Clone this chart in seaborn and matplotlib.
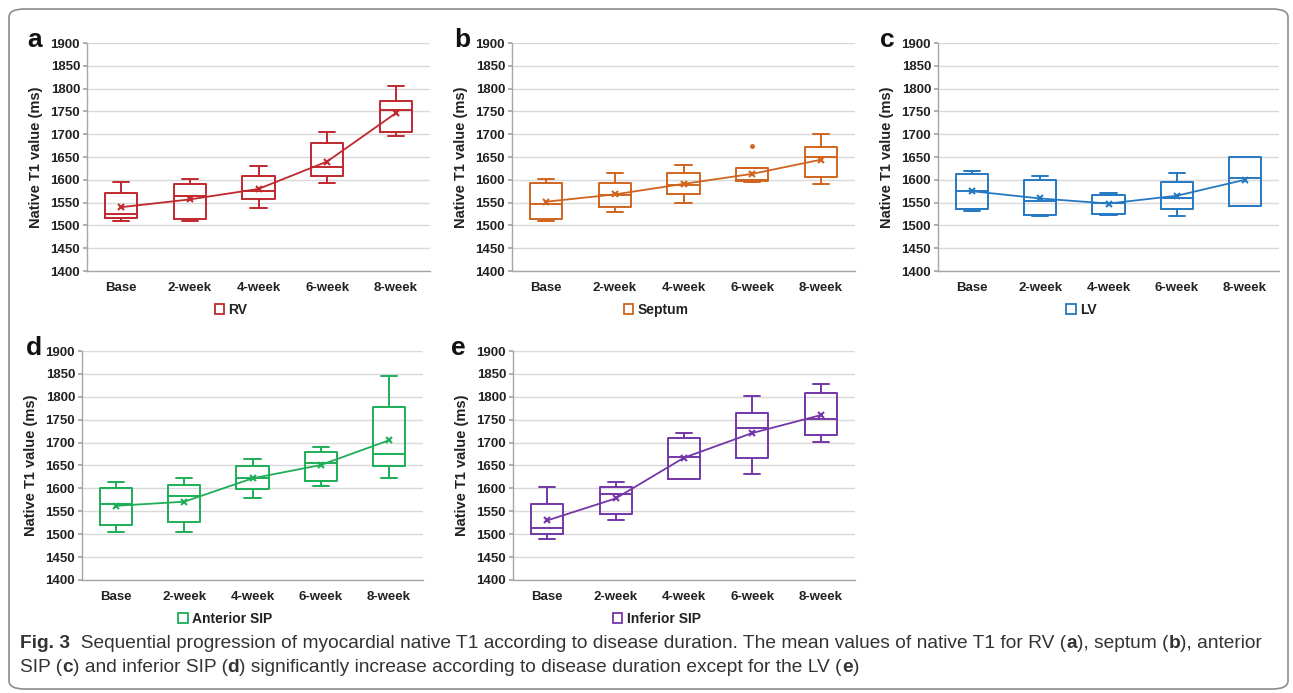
import matplotlib
matplotlib.use("Agg")
import matplotlib.pyplot as plt
import seaborn as sns
from matplotlib.patches import Patch, FancyBboxPatch

# time points
weeks = ["Base", "2-week", "4-week", "6-week", "8-week"]

# box statistics (ms)
rv_lo = [1510, 1509, 1539, 1592, 1696]
rv_q1 = [1516, 1514, 1558, 1608, 1705]
rv_med = [1526, 1564, 1575, 1628, 1753]
rv_q3 = [1572, 1590, 1608, 1680, 1772]
rv_hi = [1595, 1601, 1630, 1705, 1806]
rv_mean = [1540, 1557, 1580, 1640, 1746]

sep_lo = [1509, 1529, 1550, 1596, 1590]
sep_q1 = [1514, 1541, 1568, 1597, 1607]
sep_med = [1546, 1567, 1589, 1599, 1649]
sep_q3 = [1593, 1592, 1614, 1626, 1671]
sep_hi = [1602, 1615, 1633, 1626, 1700]
sep_mean = [1552, 1568, 1591, 1613, 1644]
sep_out = [[], [], [], [1675], []]

lv_lo = [1532, 1520, 1523, 1521, 1543]
lv_q1 = [1535, 1523, 1526, 1536, 1543]
lv_med = [1576, 1553, 1549, 1560, 1605]
lv_q3 = [1613, 1599, 1567, 1596, 1650]
lv_hi = [1619, 1608, 1570, 1615, 1651]
lv_mean = [1575, 1559, 1548, 1565, 1600]

ant_lo = [1505, 1505, 1580, 1606, 1622]
ant_q1 = [1521, 1527, 1598, 1616, 1648]
ant_med = [1565, 1583, 1623, 1655, 1676]
ant_q3 = [1600, 1607, 1649, 1679, 1778]
ant_hi = [1615, 1623, 1664, 1691, 1846]
ant_mean = [1562, 1571, 1622, 1651, 1705]

inf_lo = [1489, 1532, 1620, 1631, 1702]
inf_q1 = [1500, 1545, 1621, 1666, 1717]
inf_med = [1513, 1587, 1668, 1732, 1752]
inf_q3 = [1565, 1603, 1709, 1765, 1808]
inf_hi = [1602, 1613, 1722, 1802, 1827]
inf_mean = [1530, 1578, 1667, 1721, 1760]

panels = [
    ("a", "RV", "#C0282D", rv_lo, rv_q1, rv_med, rv_q3, rv_hi, rv_mean, None),
    ("b", "Septum", "#D0641E", sep_lo, sep_q1, sep_med, sep_q3, sep_hi, sep_mean, sep_out),
    ("c", "LV", "#2479C2", lv_lo, lv_q1, lv_med, lv_q3, lv_hi, lv_mean, None),
    ("d", "Anterior SIP", "#1DAE57", ant_lo, ant_q1, ant_med, ant_q3, ant_hi, ant_mean, None),
    ("e", "Inferior SIP", "#7536A8", inf_lo, inf_q1, inf_med, inf_q3, inf_hi, inf_mean, None),
]

# axes boxes in pixels: left, top, right, bottom
W, H = 1293, 693
boxes = [(87, 43, 430, 271), (512, 43, 855, 271), (938, 43, 1279, 271),
         (82, 351, 423, 580), (513, 351, 855, 580)]
letter_pos = [(27, 47), (454, 47), (880, 47), (26, 355), (451, 355)]

sns.set_theme(style="white")
plt.rcParams["font.family"] = ["Liberation Sans", "DejaVu Sans"]

fig = plt.figure(figsize=(W / 100, H / 100), dpi=100)

for (letter, name, color, lo, q1, med, q3, hi, mean, out), (l, t, r, b), (lx, ly) in zip(panels, boxes, letter_pos):
    ax = fig.add_axes([l / W, 1 - b / H, (r - l) / W, (b - t) / H])
    stats = []
    for i in range(len(weeks)):
        stats.append({"whislo": lo[i], "q1": q1[i], "med": med[i], "q3": q3[i],
                      "whishi": hi[i], "fliers": out[i] if out else []})
    pos = list(range(len(weeks)))
    lp = dict(color=color, linewidth=1.4)
    ax.bxp(stats, positions=pos, widths=0.47, showfliers=True, patch_artist=False,
           boxprops=lp, whiskerprops=lp, capprops=lp, medianprops=lp,
           flierprops=dict(marker="o", markersize=2.5, markerfacecolor=color,
                           markeredgecolor=color))
    sns.lineplot(x=pos, y=mean, ax=ax, color=color, linewidth=1.3, marker="x",
                 markersize=5, markeredgewidth=1.5, markeredgecolor=color)

    ax.set_ylim(1400, 1900)
    ax.set_xlim(-0.5, 4.5)
    ax.set_yticks(range(1400, 1901, 50))
    ax.set_xticks(pos)
    ax.set_xticklabels(weeks)
    ax.yaxis.grid(True, color="#D9D9D9", linewidth=1)
    ax.xaxis.grid(False)
    for s in ["top", "right"]:
        ax.spines[s].set_visible(False)
    for s in ["left", "bottom"]:
        ax.spines[s].set_color("#A6A6A6")
        ax.spines[s].set_linewidth(1)
    ax.tick_params(axis="y", left=True, length=3, color="#A6A6A6", pad=2,
                   labelsize=9.5, labelcolor="#222222")
    ax.tick_params(axis="x", bottom=False, length=0, pad=8, labelsize=9.5,
                   labelcolor="#222222")
    for lab in ax.get_xticklabels() + ax.get_yticklabels():
        lab.set_fontweight("bold")
    ax.set_ylabel("Native T1 value (ms)", fontsize=10.5, fontweight="bold",
                  color="#222222", labelpad=5)
    ax.legend(handles=[Patch(facecolor="white", edgecolor=color, linewidth=1.3, label=name)],
              loc="center", bbox_to_anchor=(0.42, -0.17), frameon=False,
              handlelength=0.7, handleheight=0.7, handletextpad=0.3,
              prop=dict(size=10, weight="bold"), labelcolor="#222222")
    fig.text(lx / W, 1 - ly / H, letter, fontsize=19, fontweight="bold", color="#111111")

# outer frame
fig.patches.append(FancyBboxPatch((9 / W, 4 / H), 1279 / W, 680 / H,
                                  boxstyle="round,pad=0,rounding_size=0.012",
                                  transform=fig.transFigure, fill=False,
                                  edgecolor="#8C8C8C", linewidth=1.2))

# caption with bold pieces
cap_font = ["Liberation Sans Narrow", "Liberation Sans", "DejaVu Sans"]
line1 = [("Fig. 3", "bold"), ("  Sequential progression of myocardial native T1 according to disease duration. "
         "The mean values of native T1 for RV (", "normal"), ("a", "bold"), ("), septum (", "normal"),
         ("b", "bold"), ("), anterior", "normal")]
line2 = [("SIP (", "normal"), ("c", "bold"), (") and inferior SIP (", "normal"), ("d", "bold"),
         (") significantly increase according to disease duration except for the LV (", "normal"),
         ("e", "bold"), (")", "normal")]
renderer = fig.canvas.get_renderer()
for parts, y in [(line1, 648), (line2, 672)]:
    x = 20
    for txt, wt in parts:
        tt = fig.text(x / W, 1 - y / H, txt, fontsize=13.8, fontweight=wt,
                      family=cap_font, color="#333333")
        x += tt.get_window_extent(renderer).width

fig.savefig("out.png", dpi=100)
